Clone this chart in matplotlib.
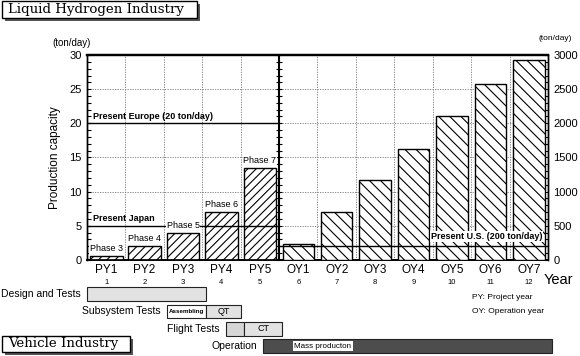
import matplotlib
matplotlib.use("Agg")
import matplotlib.pyplot as plt
import numpy as np
from matplotlib.patches import Rectangle

plt.rcParams["font.family"] = ["Liberation Sans", "DejaVu Sans"]
plt.rcParams["hatch.linewidth"] = 0.8

# data
py_labels = ["PY1", "PY2", "PY3", "PY4", "PY5"]
py_values = [0.6, 2.0, 4.0, 7.0, 13.5]          # ton/day, left scale
phase_labels = ["Phase 3", "Phase 4", "Phase 5", "Phase 6", "Phase 7"]
oy_labels = ["OY1", "OY2", "OY3", "OY4", "OY5", "OY6", "OY7"]
oy_values = [240, 700, 1170, 1620, 2110, 2570, 2930]  # ton/day, right scale
year_numbers = list(range(1, 13))
europe_level = 20
japan_level = 5
us_level = 200

gantt_rows = ["Design and Tests", "Subsystem Tests", "Flight Tests", "Operation"]
seg_row = [0, 1, 1, 2, 2, 3]
seg_start = [0.0, 2.08, 3.1, 3.62, 4.09, 4.58]
seg_end = [3.1, 3.1, 4.0, 4.09, 5.08, 12.1]
seg_text = ["", "Assembling", "QT", "", "CT", ""]
seg_color = ["#e2e2e2", "white", "#e2e2e2", "#d6d6d6", "#e2e2e2", "#4d4d4d"]

fig = plt.figure(figsize=(5.8, 3.56), dpi=100)
ax = fig.add_axes([0.15, 0.2697, 0.7948, 0.5758])
ax2 = ax.twinx()

n_py = len(py_values)
x_py = np.arange(n_py) + 0.5
x_oy = np.arange(len(oy_values)) + n_py + 0.5

ax.bar(x_py, py_values, width=0.85, facecolor="white", edgecolor="black",
       hatch="////", linewidth=1.0, zorder=3)
ax2.bar(x_oy, oy_values, width=0.82, facecolor="white", edgecolor="black",
        hatch="\\\\\\", linewidth=1.0, zorder=3)

ax.set_xlim(0, 12)
ax.set_ylim(0, 30)
ax2.set_ylim(0, 3000)

# grid
grid_kw = dict(color="#777777", linestyle=(0, (1.5, 1.5)), linewidth=0.6)
ax.set_xticks(np.arange(1, 12), minor=True)
ax.grid(True, which="minor", axis="x", **grid_kw)
ax.grid(True, which="major", axis="y", **grid_kw)
ax.set_axisbelow(True)

# reference levels
ax.plot([0, n_py], [europe_level, europe_level], color="black", lw=1.0, zorder=2)
ax.plot([0, n_py], [japan_level, japan_level], color="black", lw=1.0, zorder=4)
ax2.plot([n_py, 12], [us_level, us_level], color="black", lw=1.0, zorder=4)
ax.text(0.15, europe_level + 0.4, "Present Europe (20 ton/day)", fontsize=6.5,
        fontweight="bold", va="bottom", ha="left", zorder=5)
ax.text(0.15, japan_level + 0.4, "Present Japan", fontsize=6.5,
        fontweight="bold", va="bottom", ha="left", zorder=5)
ax2.text(11.85, us_level + 80, "Present U.S. (200 ton/day)", fontsize=6.5,
         fontweight="bold", va="bottom", ha="right", zorder=6,
         bbox=dict(facecolor="white", edgecolor="none", pad=0.5))

# phase labels
for xc, v, lab in zip(x_py, py_values, phase_labels):
    ax.annotate(lab, (xc, v), xytext=(0, 3), textcoords="offset pixels",
                ha="center", va="bottom", fontsize=6.5, zorder=6,
                bbox=dict(facecolor="white", edgecolor="none", pad=0.5))

# middle divider with cross ticks
ax.axvline(n_py, color="black", lw=1.5, zorder=5)
ax.plot(np.full(31, n_py), np.arange(31), marker="_", ms=5, mew=0.8,
        ls="none", color="black", zorder=5, clip_on=False)

# axes styling
for side, lw in [("top", 1.6), ("bottom", 1.2), ("left", 1.0), ("right", 1.0)]:
    ax.spines[side].set_linewidth(lw)
    ax2.spines[side].set_linewidth(lw)
ax.set_yticks(np.arange(0, 31, 5))
ax.set_yticks(np.arange(0, 31, 1), minor=True)
ax.tick_params(axis="y", which="both", direction="in", length=3, width=0.8,
               labelsize=8, pad=4)
ax2.set_yticks(np.arange(0, 3001, 500))
ax2.set_yticks(np.arange(0, 3001, 100), minor=True)
ax2.tick_params(axis="y", which="both", direction="in", length=3, width=0.8,
                labelsize=8, pad=4)
ax.set_xticks(np.concatenate([x_py, x_oy]))
ax.set_xticklabels(py_labels + oy_labels, fontsize=8.5)
ax.tick_params(axis="x", which="both", length=0, pad=3)
for xc, n in zip(np.concatenate([x_py, x_oy]), year_numbers):
    ax.annotate(str(n), (xc, 0), xycoords=("data", "axes fraction"),
                xytext=(0, -23), textcoords="offset pixels",
                ha="center", va="center", fontsize=5.5)

ax.set_ylabel("Production capacity", fontsize=8.5, labelpad=6)
fig.text(0.09, 0.878, "(ton/day)", fontsize=7, ha="left", va="center")
fig.text(0.928, 0.893, "(ton/day)", fontsize=6, ha="left", va="center")
fig.text(0.937, 0.213, "Year", fontsize=10.5, ha="left", va="center")
fig.text(0.814, 0.163, "PY: Project year", fontsize=6, ha="left", va="center")
fig.text(0.814, 0.126, "OY: Operation year", fontsize=6, ha="left", va="center")

# schedule below the chart
axg = fig.add_axes([0.15, 0.0037, 0.7948, 0.1944])
axg.set_xlim(0, 12)
axg.set_ylim(len(gantt_rows) - 0.5, -0.5)
axg.axis("off")
for r, s, e, t, c in zip(seg_row, seg_start, seg_end, seg_text, seg_color):
    axg.barh(r, e - s, left=s, height=0.8, color=c, edgecolor="#222222",
             linewidth=0.8, clip_on=False)
    if t:
        axg.text((s + e) / 2, r, t, ha="center", va="center",
                 fontsize=4.5 if len(t) > 3 else 6.5,
                 fontweight="bold" if len(t) > 3 else "normal")
for i, name in enumerate(gantt_rows):
    first = min(s for r, s in zip(seg_row, seg_start) if r == i)
    axg.annotate(name, (first, i), xytext=(-6, 0), textcoords="offset pixels",
                 ha="right", va="center", fontsize=7.5)
axg.text(5.4, 3, "Mass producton", ha="left", va="center", fontsize=5.8,
         bbox=dict(facecolor="white", edgecolor="none", pad=0.8))


# title boxes with drop shadow
def title_box(x0, y0, x1, y1, label, size):
    W, H = 580.0, 356.0
    fig.patches.append(Rectangle(((x0 + 3) / W, 1 - (y1 + 3) / H), (x1 - x0) / W,
                                 (y1 - y0) / H, transform=fig.transFigure,
                                 facecolor="#555555", edgecolor="none"))
    fig.patches.append(Rectangle((x0 / W, 1 - y1 / H), (x1 - x0) / W, (y1 - y0) / H,
                                 transform=fig.transFigure, facecolor="white",
                                 edgecolor="black", linewidth=1.0))
    fig.text((x0 + 6) / W, 1 - (y0 + y1) / 2 / H, label, fontsize=size,
             family="DejaVu Serif", ha="left", va="center")


title_box(2, 1, 197, 18, "Liquid Hydrogen Industry", 9.6)
title_box(2, 336, 130, 352, "Vehicle Industry", 9.6)

fig.savefig("out.png", dpi=100)
